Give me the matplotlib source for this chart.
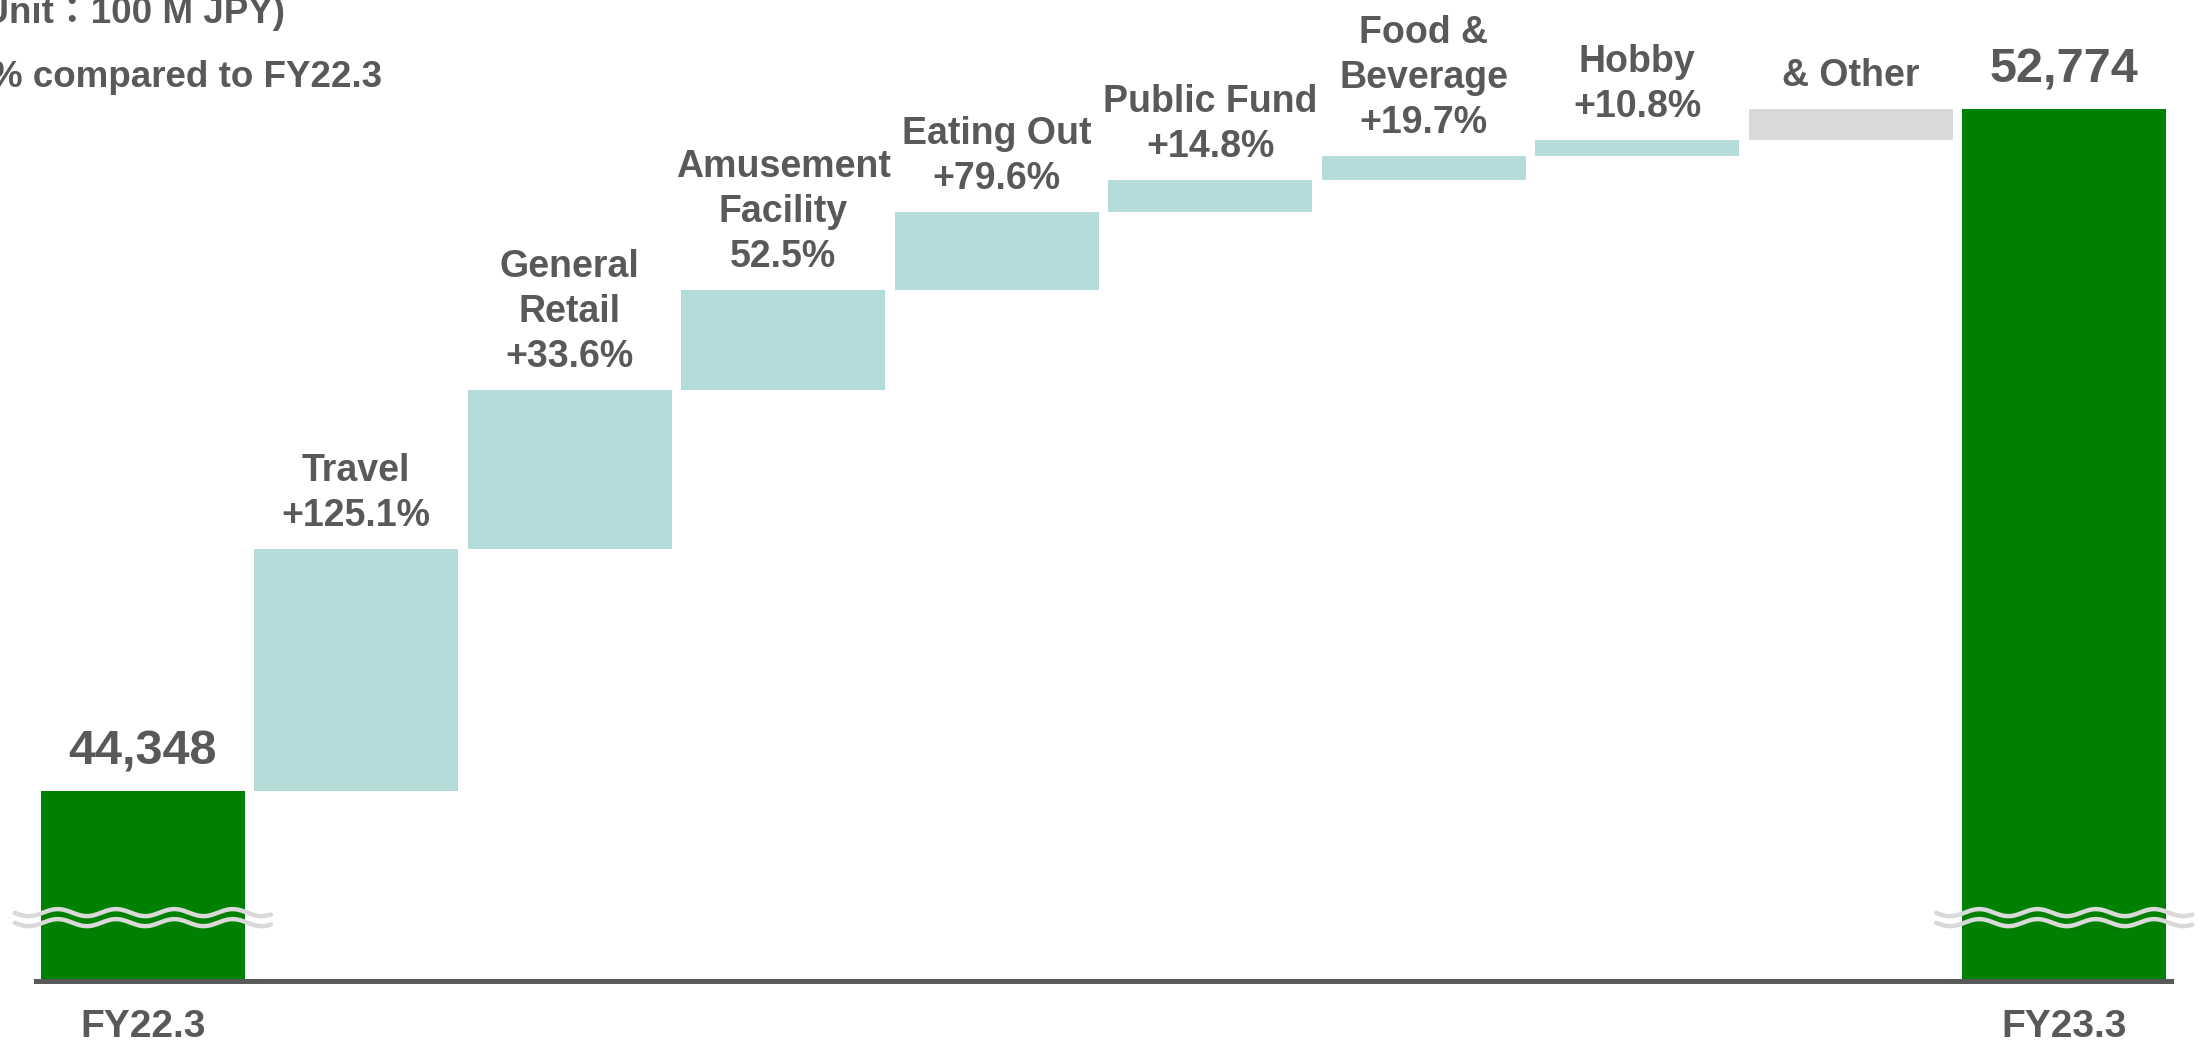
import numpy as np
import matplotlib.pyplot as plt
from matplotlib.transforms import blended_transform_factory

plt.rcParams['font.family'] = ['Liberation Sans', 'Noto Sans CJK JP', 'DejaVu Sans']

start_label = 'FY22.3'
end_label = 'FY23.3'
start_value = 44348
end_value = 52774

segments = ['Travel', 'General\nRetail', 'Amusement\nFacility', 'Eating Out',
            'Public Fund', 'Food &\nBeverage', 'Hobby', '& Other']
growth = ['+125.1%', '+33.6%', '52.5%', '+79.6%', '+14.8%', '+19.7%', '+10.8%', '']
increase = [2990, 1964, 1236, 964, 395, 297, 198, 382]

txt_color = '#595959'
green = '#008000'
teal = '#b4dbda'
grey = '#d9d9d9'

fig = plt.figure(figsize=(22.03, 10.51), dpi=100)
ax = fig.add_axes([36/2203, 70/1051, 2135/2203, 981/1051])

y_base = 42000
y_top = y_base + 981 * 12.355
ax.set_xlim(-0.5, 9.5)
ax.set_ylim(y_base, y_top)

w = 0.956
n = len(segments)

# start / end totals
ax.bar(0, start_value - y_base, bottom=y_base, width=w, color=green)
ax.bar(n + 1, end_value - y_base, bottom=y_base, width=w, color=green)

# floating steps
bottoms = start_value + np.concatenate([[0], np.cumsum(increase)[:-1]])
for i in range(n):
    col = grey if i == n - 1 else teal
    ax.bar(i + 1, increase[i], bottom=bottoms[i], width=w, color=col)
    lab = segments[i] if growth[i] == '' else segments[i] + '\n' + growth[i]
    ax.annotate(lab, xy=(i + 1, bottoms[i] + increase[i]), xytext=(0, 11),
                textcoords='offset points', ha='center', va='bottom',
                fontsize=27, fontweight='bold', color=txt_color, linespacing=1.32)

for x, v in [(0, start_value), (n + 1, end_value)]:
    ax.annotate(f'{v:,}', xy=(x, v), xytext=(0, 12), textcoords='offset points',
                ha='center', va='bottom', fontsize=35, fontweight='bold', color=txt_color)

# broken-axis wavy marks
tr = blended_transform_factory(ax.transData, ax.transAxes)
period = 0.273
for c in [0, n + 1]:
    xs = np.linspace(c - 0.6, c + 0.6, 400)
    wave = 0.0036 * np.cos(2 * np.pi * (xs - (c - 0.398)) / period)
    for y0 in [0.0697, 0.0595]:
        ax.plot(xs, y0 + wave, color=grey, lw=3.2, transform=tr, clip_on=False,
                solid_capstyle='round')

ax.axhline(y_base, color=txt_color, lw=3.6, clip_on=False)

for s in ax.spines.values():
    s.set_visible(False)
ax.set_yticks([])
ax.set_xticks([0, n + 1])
ax.set_xticklabels([start_label, end_label], fontsize=28, fontweight='bold', color=txt_color)
ax.tick_params(axis='x', length=0, pad=20)

fig.text(285/2203, 1 - 23/1051, '(Unit：100 M JPY)', ha='right', va='baseline',
         fontsize=26.5, fontweight='bold', color=txt_color)
fig.text(382/2203, 1 - 87/1051, '% compared to FY22.3', ha='right', va='baseline',
         fontsize=26.5, fontweight='bold', color=txt_color)

fig.savefig('out.png', dpi=100)
